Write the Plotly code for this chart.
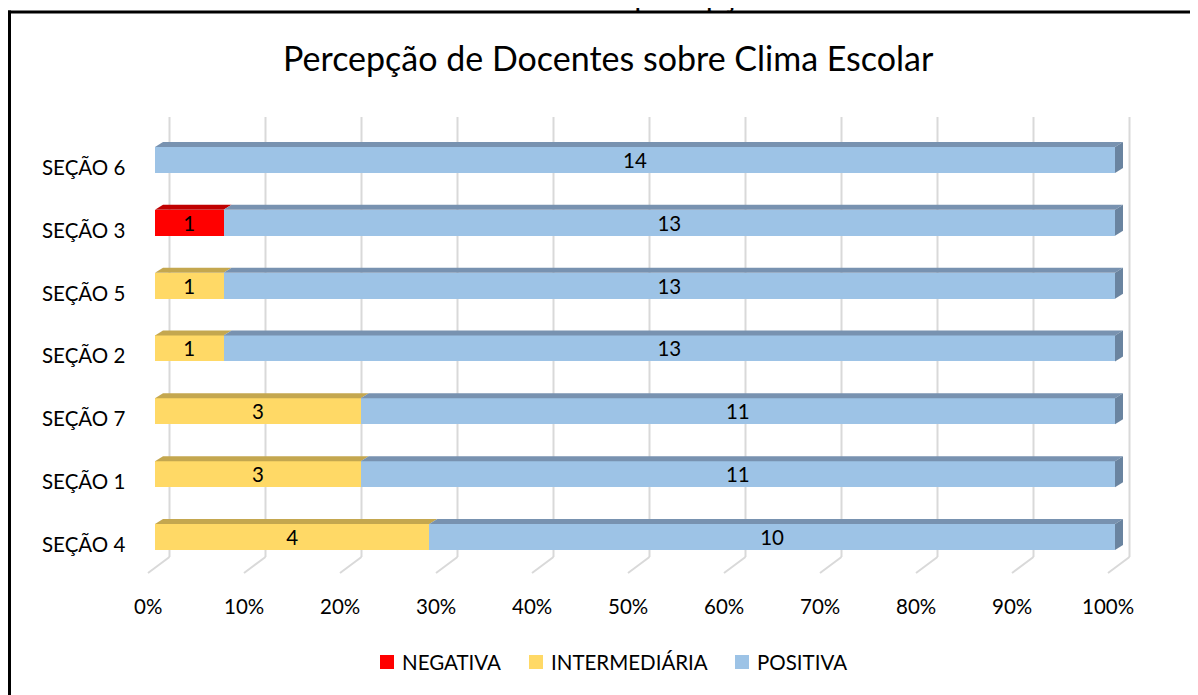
import plotly.graph_objects as go

# dados (de baixo para cima)
secoes = ['SEÇÃO 4', 'SEÇÃO 1', 'SEÇÃO 7', 'SEÇÃO 2', 'SEÇÃO 5', 'SEÇÃO 3', 'SEÇÃO 6']
negativa = [0, 0, 0, 0, 0, 1, 0]
intermediaria = [4, 3, 3, 1, 1, 0, 0]
positiva = [10, 11, 11, 13, 13, 13, 14]
ticks_pct = [0, 10, 20, 30, 40, 50, 60, 70, 80, 90, 100]

series = [
    ('NEGATIVA', negativa, '#FF0000', '#C00000', '#A00000'),
    ('INTERMEDIÁRIA', intermediaria, '#FFD966', '#C4A74F', '#A88E40'),
    ('POSITIVA', positiva, '#9DC3E6', '#7892B0', '#6A84A0'),
]

FONT = 'Lato, Carlito, Calibri, sans-serif'
FS = 20.5

# a pagina tem margem de 8px no body -> coordenadas abaixo sao da pagina
OX, OY = 8, 8
W, H = 1190, 687
PX0, PX1 = 140, 1140      # area do grafico (x, pagina)
PY0, PY1 = 100, 590       # area do grafico (y, pagina)
px_x = 9.6                # px por 1%
px_y = 62.83              # px por categoria
x0_front = 155            # pixel do 0% (frente da barra)
y6 = 160                  # pixel do centro da categoria 6
xmin = (PX0 - x0_front) / px_x
xmax = 100 + (PX1 - (x0_front + 100 * px_x)) / px_x
ymax = 6 + (y6 - PY0) / px_y
ymin = 6 - (PY1 - y6) / px_y

def ydat(py):
    return 6 + (y6 - py) / px_y

def pxp(px):
    return (px - PX0) / (PX1 - PX0)

def pyp(py):
    return (PY1 - py) / (PY1 - PY0)

bar_w = 26 / px_y
ddx, ddy = 8 / px_x, 5 / px_y       # profundidade da barra
back_dx = 14.5 / px_x               # deslocamento do plano de fundo
floor_front_dx = -7 / px_x

fig = go.Figure()
for name, vals, cfront, ctop, cside in series:
    fig.add_trace(go.Bar(
        y=list(range(len(secoes))), x=vals, name=name, orientation='h',
        width=bar_w, marker=dict(color=cfront, line=dict(width=0)),
        text=[str(v) if v else '' for v in vals], texttemplate='%{text}',
        textposition='inside', insidetextanchor='middle', textangle=0,
        insidetextfont=dict(family=FONT, size=FS, color='black'),
        constraintext='none', hoverinfo='skip', showlegend=False))

shapes = []
# grade (plano de fundo + chao)
for t in ticks_pct:
    shapes.append(dict(type='line', xref='x', yref='y', layer='below',
                       x0=t + back_dx, x1=t + back_dx, y0=ydat(557), y1=ydat(117),
                       line=dict(color='#D9D9D9', width=2)))
    shapes.append(dict(type='line', xref='x', yref='y', layer='below',
                       x0=t + floor_front_dx, x1=t + back_dx, y0=ydat(573), y1=ydat(557),
                       line=dict(color='#D9D9D9', width=2)))

# faces 3D (topo e lateral)
totais = [sum(s[1][i] for s in series) for i in range(len(secoes))]
for i in range(len(secoes)):
    start = 0.0
    yt = i + bar_w / 2
    last = None
    for name, vals, cfront, ctop, cside in series:
        if vals[i] == 0:
            continue
        seg = vals[i] / totais[i] * 100
        a, b = start, start + seg
        shapes.append(dict(type='path', xref='x', yref='y', line=dict(width=0), fillcolor=ctop,
                           path=f'M{a},{yt} L{b},{yt} L{b + ddx},{yt + ddy} L{a + ddx},{yt + ddy} Z'))
        start = b
        last = cside
    yb = i - bar_w / 2
    shapes.append(dict(type='path', xref='x', yref='y', line=dict(width=0), fillcolor=last,
                       path=f'M{start},{yb} L{start},{yt} L{start + ddx},{yt + ddy} L{start + ddx},{yb + ddy} Z'))

# moldura (topo + lado esquerdo)
shapes.append(dict(type='line', xref='paper', yref='paper', x0=pxp(8), x1=pxp(1230),
                   y0=pyp(12), y1=pyp(12), line=dict(color='black', width=3)))
shapes.append(dict(type='line', xref='paper', yref='paper', x0=pxp(9.5), x1=pxp(9.5),
                   y0=pyp(10.5), y1=pyp(730), line=dict(color='black', width=3)))

annotations = []
for t in ticks_pct:
    annotations.append(dict(x=t + floor_front_dx, y=pyp(606), xref='x', yref='paper',
                            text=f'{t}%', showarrow=False, yanchor='middle',
                            font=dict(family=FONT, size=FS, color='black')))
for i, s in enumerate(secoes):
    annotations.append(dict(x=pxp(127), y=i, xref='paper', yref='y', yshift=-7,
                            text=s, showarrow=False, xanchor='right', yanchor='middle',
                            font=dict(family=FONT, size=FS, color='black')))
annotations.append(dict(x=pxp(608), y=pyp(57), xref='paper', yref='paper',
                        text='Percepção de Docentes sobre Clima Escolar', showarrow=False,
                        yanchor='middle', font=dict(family=FONT, size=34, color='black')))
annotations.append(dict(x=pxp(701), y=pyp(13), xref='paper', yref='paper', text='percepção',
                        showarrow=False, yanchor='bottom', borderpad=0,
                        font=dict(family='Liberation Serif, Times New Roman, serif', size=33, color='black')))

# legenda
leg_x = [380, 529, 735]
for (name, vals, cfront, ctop, cside), lx in zip(series, leg_x):
    shapes.append(dict(type='rect', xref='paper', yref='paper', x0=pxp(lx), x1=pxp(lx + 14),
                       y0=pyp(669), y1=pyp(655), fillcolor=cfront, line=dict(width=0)))
    annotations.append(dict(x=pxp(lx + 20), y=pyp(662), xref='paper', yref='paper', text=name,
                            showarrow=False, xanchor='left', yanchor='middle',
                            font=dict(family=FONT, size=FS, color='black')))

fig.update_layout(
    width=W, height=H, barmode='stack', barnorm='percent',
    plot_bgcolor='white', paper_bgcolor='white',
    margin=dict(l=PX0 - OX, r=W - (PX1 - OX), t=PY0 - OY, b=H - (PY1 - OY)),
    xaxis=dict(range=[xmin, xmax], showgrid=False, zeroline=False, showticklabels=False, fixedrange=True),
    yaxis=dict(range=[ymin, ymax], showgrid=False, zeroline=False, showticklabels=False, fixedrange=True),
    shapes=shapes, annotations=annotations, showlegend=False,
)

fig.write_html('out.html')
